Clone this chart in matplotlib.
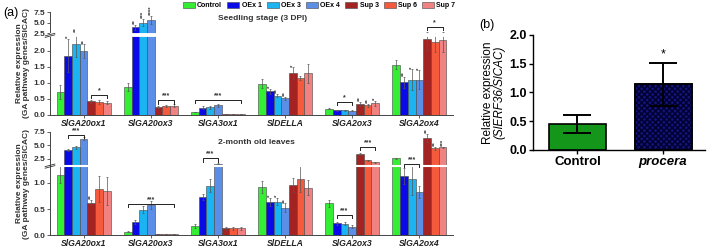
import numpy as np
import matplotlib
matplotlib.use('Agg')
import matplotlib.pyplot as plt

plt.rcParams['font.family'] = 'Liberation Sans'

# genes and lines
genes = ['SlGA20ox1', 'SlGA20ox3', 'SlGA3ox1', 'SlDELLA', 'SlGA2ox3', 'SlGA2ox4']
lines = ['Control', 'OEx 1', 'OEx 3', 'OEx 4', 'Sup 3', 'Sup 6', 'Sup 7']
colors = ['#33ee33', '#0a0ae8', '#1ab4f2', '#5b8ee6', '#a32323', '#f55a3c', '#f08282']

# seedling stage (3 DPI): mean / error per gene
seed_20ox1 = [0.72, 1.85, 2.22, 1.98, 0.42, 0.40, 0.37]
seed_20ox1_err = [0.22, 0.52, 0.42, 0.22, 0.04, 0.05, 0.05]
seed_20ox3 = [0.86, 3.9, 5.0, 5.7, 0.23, 0.27, 0.28]
seed_20ox3_err = [0.12, 0.6, 0.9, 0.9, 0.03, 0.03, 0.04]
seed_3ox1 = [0.085, 0.22, 0.23, 0.29, 0.03, 0.03, 0.03]
seed_3ox1_err = [0.01, 0.04, 0.05, 0.04, 0.005, 0.005, 0.005]
seed_della = [0.97, 0.73, 0.60, 0.51, 1.30, 1.16, 1.30]
seed_della_err = [0.15, 0.07, 0.05, 0.05, 0.18, 0.06, 0.30]
seed_2ox3 = [0.19, 0.14, 0.14, 0.13, 0.34, 0.30, 0.36]
seed_2ox3_err = [0.02, 0.02, 0.02, 0.02, 0.06, 0.05, 0.08]
seed_2ox4 = [1.56, 1.02, 1.09, 1.09, 2.37, 2.27, 2.35]
seed_2ox4_err = [0.14, 0.17, 0.33, 0.30, 0.35, 0.30, 0.40]

# 2-month old leaves
leaf_20ox1 = [1.16, 4.1, 4.6, 6.2, 0.62, 0.89, 0.85]
leaf_20ox1_err = [0.16, 0.25, 0.3, 0.25, 0.05, 0.25, 0.27]
leaf_20ox3 = [0.07, 0.26, 0.49, 0.58, 0.02, 0.02, 0.025]
leaf_20ox3_err = [0.01, 0.04, 0.07, 0.07, 0.003, 0.003, 0.004]
leaf_3ox1 = [0.18, 0.73, 0.95, 1.55, 0.13, 0.13, 0.13]
leaf_3ox1_err = [0.04, 0.06, 0.12, 0.05, 0.02, 0.02, 0.02]
leaf_della = [0.92, 0.63, 0.64, 0.53, 0.96, 1.07, 0.91]
leaf_della_err = [0.12, 0.08, 0.07, 0.08, 0.13, 0.25, 0.15]
leaf_2ox3 = [0.61, 0.23, 0.22, 0.16, 3.3, 2.15, 1.85]
leaf_2ox3_err = [0.07, 0.03, 0.03, 0.03, 0.15, 0.10, 0.10]
leaf_2ox4 = [2.57, 1.13, 1.07, 0.83, 6.3, 4.4, 4.6]
leaf_2ox4_err = [0.12, 0.15, 0.30, 0.12, 0.8, 0.3, 0.12]

# significance: (gene, line, label) and brackets (gene, first, last, y, label)
seed_stars = [(0, 1, '*'), (0, 2, '**'), (0, 3, '**'), (1, 1, '**'), (1, 2, '***'), (1, 3, '****'),
              (3, 1, '*'), (3, 2, '**'), (3, 3, '**'), (3, 4, '*'), (4, 4, '**'), (4, 5, '**'),
              (4, 6, '*'), (5, 1, '**'), (5, 2, '*'), (5, 3, '*')]
seed_brackets = [(0, 4, 6, 0.62, '*'), (1, 4, 6, 0.45, '***'), (2, 0, 6, 0.46, '***'),
                 (4, 1, 3, 0.41, '*'), (5, 4, 6, 4.0, '*')]
leaf_stars = [(0, 4, '**'), (3, 1, '*'), (3, 2, '*'), (3, 3, '**'),
              (5, 4, '**'), (5, 5, '**'), (5, 6, '***')]
leaf_brackets = [(0, 1, 3, 6.9, '***'), (1, 0, 6, 0.6, '***'), (2, 1, 3, 2.55, '***'),
                 (4, 1, 3, 0.39, '***'), (4, 4, 6, 4.7, '***'), (5, 1, 3, 1.55, '***')]

# panel b
b_groups = ['Control', 'procera']
b_vals = [0.45, 1.14]
b_errs = [0.16, 0.37]

W, H = 709, 247
fig = plt.figure(figsize=(W / 100, H / 100), dpi=100)


def px_axes(x0, y0, x1, y1):
    return fig.add_axes([x0 / W, 1 - y1 / H, (x1 - x0) / W, (y1 - y0) / H])


def broken(b, g, k):
    def fwd(y):
        y = np.asarray(y, float)
        return np.where(y <= b, y, b + g + (y - b) * k)

    def inv(f):
        f = np.asarray(f, float)
        return np.where(f <= b, f, np.where(f < b + g, b, b + (f - b - g) / k))
    return fwd, inv


bw = 0.1146
x = np.arange(len(genes))


def draw_panel(ax, means, errs, stars, brackets, b, g, k, yticks, ticklabels):
    fwd, inv = broken(b, g, k)
    ax.set_yscale('function', functions=(fwd, inv))
    ax.set_ylim(0, 7.5)
    ax.set_xlim(-0.5, 5.5)
    m = np.array(means)
    e = np.array(errs)
    for j in range(len(lines)):
        xs = x + (j - 3) * bw
        ax.bar(xs, m[:, j], bw, color=colors[j], edgecolor='#444444', linewidth=0.4,
               label=lines[j], zorder=2)
        ax.errorbar(xs, m[:, j], yerr=e[:, j], fmt='none', ecolor='#555555',
                    elinewidth=0.5, capsize=1.0, capthick=0.5, zorder=3)
    # white break line
    top = float(fwd(7.5))
    frac = (b + g / 2) / top
    lw = g / top * ax.bbox.height * 72 / 100
    ax.plot([0.004, 1], [frac, frac], transform=ax.transAxes, color='white', lw=lw, zorder=4)
    ax.plot([-0.012, 0.012], [frac - 0.02, frac + 0.005], transform=ax.transAxes,
            color='#333333', lw=0.6, clip_on=False, zorder=5)
    ax.plot([-0.012, 0.012], [frac - 0.005, frac + 0.02], transform=ax.transAxes,
            color='#333333', lw=0.6, clip_on=False, zorder=5)
    for gi, li, s in stars:
        ax.annotate(s, (x[gi] + (li - 3) * bw, m[gi, li] + e[gi, li]), xytext=(0.3, 0.5),
                    textcoords='offset points', ha='center', va='bottom', rotation=90,
                    fontsize=4.5, fontweight='bold', color='#333333', zorder=6)
    for gi, i0, i1, y, s in brackets:
        x0 = x[gi] + (i0 - 3) * bw
        x1 = x[gi] + (i1 - 3) * bw
        p0 = ax.transData.transform((x0, y))
        q0 = ax.transData.inverted().transform((p0[0], p0[1] - 3.5))
        ax.plot([x0, x0, x1, x1], [q0[1], y, y, q0[1]], color='#222222', lw=0.7, zorder=6)
        ax.annotate(s, ((x0 + x1) / 2, y), xytext=(0, 0.5), textcoords='offset points',
                    ha='center', va='bottom', fontsize=5, fontweight='bold', color='#333333')
    ax.set_yticks(yticks)
    ax.set_yticklabels(ticklabels, fontsize=6, fontweight='bold', color='#333333')
    ax.set_xticks(x)
    ax.set_xticklabels(genes, fontsize=6.2, fontweight='bold', style='italic', color='#222222')
    ax.tick_params(axis='both', length=2, width=0.6, pad=1.5, color='#444444')
    ax.tick_params(axis='x', pad=1)
    for sp in ['top', 'right']:
        ax.spines[sp].set_visible(False)
    for sp in ['left', 'bottom']:
        ax.spines[sp].set_linewidth(0.7)
        ax.spines[sp].set_color('#444444')


ax1 = px_axes(50, 12.3, 453, 114.7)
seed_m = [seed_20ox1, seed_20ox3, seed_3ox1, seed_della, seed_2ox3, seed_2ox4]
seed_e = [seed_20ox1_err, seed_20ox3_err, seed_3ox1_err, seed_della_err, seed_2ox3_err, seed_2ox4_err]
draw_panel(ax1, seed_m, seed_e, seed_stars, seed_brackets, 2.42, 0.12, 0.13,
           [0, 0.5, 1.0, 1.5, 2.0, 2.5, 5.0, 7.5],
           ['0.0', '0.5', '1.0', '1.5', '2.0', '2.5', '5.0', '7.5'])

ax2 = px_axes(50, 131.7, 453, 235.3)
leaf_m = [leaf_20ox1, leaf_20ox3, leaf_3ox1, leaf_della, leaf_2ox3, leaf_2ox4]
leaf_e = [leaf_20ox1_err, leaf_20ox3_err, leaf_3ox1_err, leaf_della_err, leaf_2ox3_err, leaf_2ox4_err]
draw_panel(ax2, leaf_m, leaf_e, leaf_stars, leaf_brackets, 1.3, 0.04, 0.1027,
           [0, 0.5, 1.0, 2.5, 5.0, 7.5], ['0.0', '0.5', '1.0', '2.5', '5.0', '7.5'])

for ax in [ax1, ax2]:
    ax.set_ylabel('Relative expression\n(GA pathway genes/SlCAC)', fontsize=6,
                  fontweight='bold', color='#333333', linespacing=1.0, labelpad=2)

fig.text(218 / W, 1 - 19 / H, 'Seedling stage (3 DPI)', fontsize=6, fontweight='bold',
         color='#333333', va='center')
fig.text(218 / W, 1 - 142 / H, '2-month old leaves', fontsize=6, fontweight='bold',
         color='#333333', va='center')
fig.text(3 / W, 1 - 13 / H, '(a)', fontsize=9, va='center')

h, l = ax1.get_legend_handles_labels()
fig.legend(h, l, loc='center left', bbox_to_anchor=(183 / W, 1 - 5.5 / H), ncol=7,
           frameon=False, prop={'size': 5, 'weight': 'bold'}, handlelength=1.7,
           handleheight=0.9, handletextpad=0.35, columnspacing=0.75, borderpad=0,
           borderaxespad=0)

# panel b
axb = px_axes(533, 35, 705, 150)
axb.bar([0, 1], b_vals, 0.667, color=['#14961a', '#141478'], edgecolor='black', linewidth=1.2,
        zorder=2)
axb.bar([1], b_vals[1:], 0.667, color='none', edgecolor='#000030', hatch='xxxxxx',
        linewidth=0, zorder=3)
axb.bar([1], b_vals[1:], 0.667, color='none', edgecolor='black', linewidth=1.2, zorder=4)
axb.errorbar([0, 1], b_vals, yerr=b_errs, fmt='none', ecolor='black', elinewidth=1.4,
             capsize=10, capthick=1.4, zorder=5)
axb.annotate('*', (1, b_vals[1] + b_errs[1]), xytext=(0, 2), textcoords='offset points',
             ha='center', va='bottom', fontsize=9)
axb.set_xlim(-0.52, 1.49)
axb.set_ylim(0, 2.0)
axb.set_yticks([0, 0.5, 1.0, 1.5, 2.0])
axb.set_yticklabels(['0.0', '0.5', '1.0', '1.5', '2.0'], fontsize=9, fontweight='bold')
axb.set_xticks([0, 1])
axb.set_xticklabels(b_groups, fontsize=9.5, fontweight='bold')
axb.get_xticklabels()[1].set_style('italic')
axb.tick_params(length=3, width=1.0, pad=1.5)
for sp in ['top', 'right']:
    axb.spines[sp].set_visible(False)
for sp in ['left', 'bottom']:
    axb.spines[sp].set_linewidth(1.0)
yc = 1 - 92.5 / H
fig.text(488 / W, yc, 'Relative expression', fontsize=8.5, rotation=90, ha='center', va='center')
fig.text(499.5 / W, yc, '(SlERF36/SlCAC)', fontsize=8.5, rotation=90, ha='center', va='center',
         style='italic')
fig.text(479 / W, 1 - 25 / H, '(b)', fontsize=9, va='center')

fig.savefig('out.png', dpi=100)
